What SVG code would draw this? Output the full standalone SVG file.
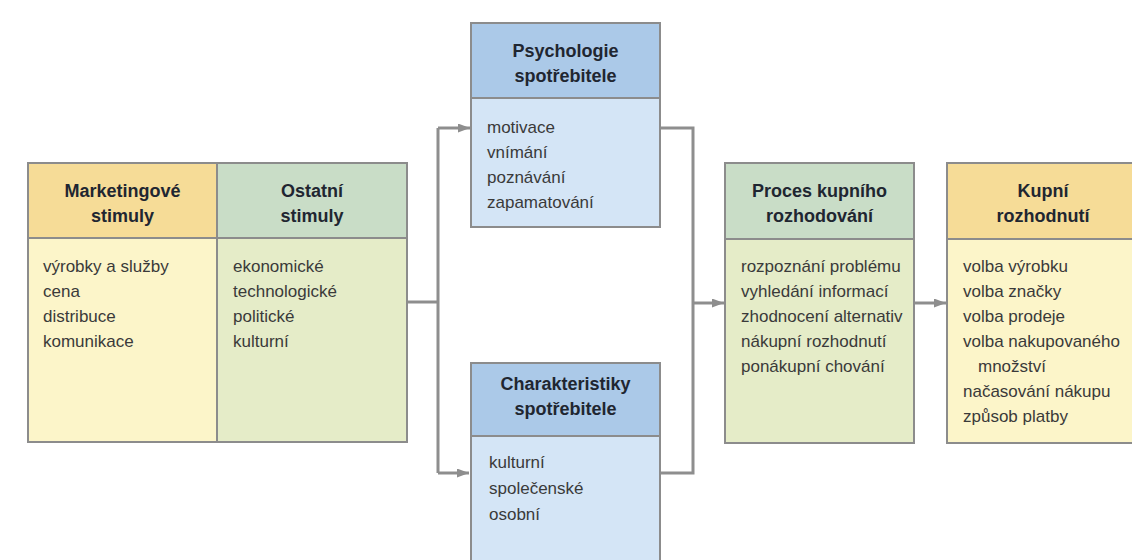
<svg xmlns="http://www.w3.org/2000/svg" width="1132" height="560" viewBox="0 0 1132 560">
<defs>
<style>
.hd{font-family:"Liberation Sans",Arial,sans-serif;font-weight:bold;font-size:18px;fill:#1f2631;text-anchor:middle}
.bd{font-family:"Liberation Sans",Arial,sans-serif;font-size:17px;fill:#3a3a3a}
.box{stroke:#8c8c8c;stroke-width:2}
.conn{fill:none;stroke:#8e8e8e;stroke-width:3}
</style>
<marker id="arr" markerUnits="userSpaceOnUse" markerWidth="13" markerHeight="10" refX="12" refY="4.5" orient="auto">
<path d="M0,0 L12,4.5 L0,9 z" fill="#8e8e8e"/>
</marker>
</defs>
<rect width="1132" height="560" fill="#ffffff"/>

<g id="connectors">
<path class="conn" d="M407,302 H438"/>
<path class="conn" d="M438,128 V473"/>
<path class="conn" d="M438,128 H470" marker-end="url(#arr)"/>
<path class="conn" d="M438,473 H469" marker-end="url(#arr)"/>
<path class="conn" d="M660,128 H693 V473 H660"/>
<path class="conn" d="M693,303 H724" marker-end="url(#arr)"/>
<path class="conn" d="M914,303 H946" marker-end="url(#arr)"/>
</g>

<g id="marketingove">
<rect class="box" x="28" y="163" width="189" height="75" fill="#f6dc97"/>
<rect class="box" x="28" y="238" width="189" height="204" fill="#fcf5c9"/>
<text class="hd" x="122.5" y="197">Marketingové</text>
<text class="hd" x="122.5" y="222">stimuly</text>
<text class="bd" x="43" y="272">výrobky a služby</text>
<text class="bd" x="43" y="297">cena</text>
<text class="bd" x="43" y="322">distribuce</text>
<text class="bd" x="43" y="347">komunikace</text>
</g>

<g id="ostatni">
<rect class="box" x="217" y="163" width="190" height="75" fill="#c9ddc7"/>
<rect class="box" x="217" y="238" width="190" height="204" fill="#e5ecc8"/>
<text class="hd" x="312" y="197">Ostatní</text>
<text class="hd" x="312" y="222">stimuly</text>
<text class="bd" x="233" y="272">ekonomické</text>
<text class="bd" x="233" y="297">technologické</text>
<text class="bd" x="233" y="322">politické</text>
<text class="bd" x="233" y="347">kulturní</text>
</g>

<g id="psychologie">
<rect class="box" x="471" y="23" width="189" height="75" fill="#abc9e8"/>
<rect class="box" x="471" y="98" width="189" height="129" fill="#d4e5f6"/>
<text class="hd" x="565.5" y="57">Psychologie</text>
<text class="hd" x="565.5" y="82">spotřebitele</text>
<text class="bd" x="487" y="133">motivace</text>
<text class="bd" x="487" y="158">vnímání</text>
<text class="bd" x="487" y="183">poznávání</text>
<text class="bd" x="487" y="208">zapamatování</text>
</g>

<g id="charakteristiky">
<rect class="box" x="471" y="363" width="189" height="73" fill="#abc9e8"/>
<rect class="box" x="471" y="436" width="189" height="134" fill="#d4e5f6"/>
<text class="hd" x="565.5" y="390">Charakteristiky</text>
<text class="hd" x="565.5" y="415">spotřebitele</text>
<text class="bd" x="489" y="468">kulturní</text>
<text class="bd" x="489" y="494">společenské</text>
<text class="bd" x="489" y="520">osobní</text>
</g>

<g id="proces">
<rect class="box" x="725" y="163" width="189" height="76" fill="#c9ddc7"/>
<rect class="box" x="725" y="239" width="189" height="204" fill="#e5ecc8"/>
<text class="hd" x="819.5" y="197">Proces kupního</text>
<text class="hd" x="819.5" y="222">rozhodování</text>
<text class="bd" x="741" y="272">rozpoznání problému</text>
<text class="bd" x="741" y="297">vyhledání informací</text>
<text class="bd" x="741" y="322">zhodnocení alternativ</text>
<text class="bd" x="741" y="347">nákupní rozhodnutí</text>
<text class="bd" x="741" y="372">ponákupní chování</text>
</g>

<g id="kupni">
<rect class="box" x="947" y="163" width="192" height="76" fill="#f6dc97"/>
<rect class="box" x="947" y="239" width="192" height="204" fill="#fcf5c9"/>
<text class="hd" x="1043" y="197">Kupní</text>
<text class="hd" x="1043" y="222">rozhodnutí</text>
<text class="bd" x="963" y="272">volba výrobku</text>
<text class="bd" x="963" y="297">volba značky</text>
<text class="bd" x="963" y="322">volba prodeje</text>
<text class="bd" x="963" y="347">volba nakupovaného</text>
<text class="bd" x="978" y="372">množství</text>
<text class="bd" x="963" y="397">načasování nákupu</text>
<text class="bd" x="963" y="422">způsob platby</text>
</g>
</svg>
